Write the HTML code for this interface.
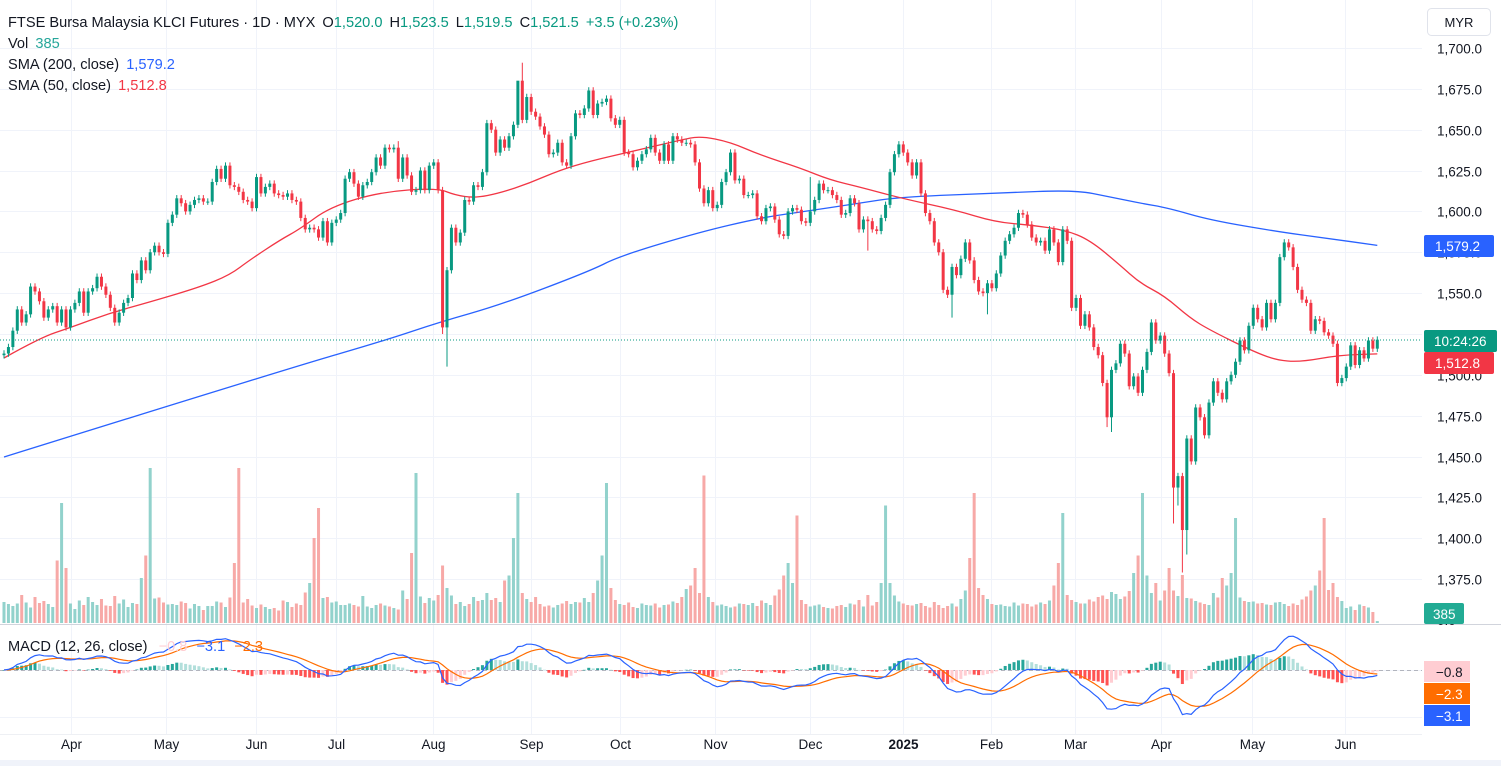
<!DOCTYPE html>
<html><head><meta charset="utf-8">
<style>
html,body{margin:0;padding:0;background:#fff;}
body{width:1501px;height:766px;overflow:hidden;font-family:"Liberation Sans",sans-serif;}
svg text{font-family:"Liberation Sans",sans-serif;}
</style></head>
<body>
<svg id="chart" width="1501" height="766" viewBox="0 0 1501 766" xmlns="http://www.w3.org/2000/svg">
  <rect x="0" y="0" width="1501" height="766" fill="#ffffff"/>
  <defs>
    <clipPath id="mainClip"><rect x="0" y="0" width="1422" height="624"/></clipPath>
    <clipPath id="macdClip"><rect x="0" y="626" width="1422" height="108"/></clipPath>
  </defs>
  <g id="grid"></g>
  <g id="volume" clip-path="url(#mainClip)"></g>
  <g id="smas" clip-path="url(#mainClip)"></g>
  <g id="candles" clip-path="url(#mainClip)"></g>
  <line x1="0" y1="340" x2="1422" y2="340" stroke="#089981" stroke-width="1" stroke-dasharray="1,2"/>
  <g id="macd" clip-path="url(#macdClip)"></g>
  <line x1="0" y1="624.5" x2="1501" y2="624.5" stroke="#d1d4dc"/>
  <line x1="0" y1="734.5" x2="1422" y2="734.5" stroke="#eef0f4"/>
  <rect x="0" y="760" width="1501" height="6" fill="#f0f3fa"/>
  <g id="yaxis"></g>
  <g id="xaxis"></g>

  <g font-size="14.6">
    <text x="8" y="27" fill="#131722">FTSE Bursa Malaysia KLCI Futures · 1D · MYX <tspan dx="3">O</tspan><tspan fill="#089981">1,520.0</tspan><tspan dx="7">H</tspan><tspan fill="#089981">1,523.5</tspan><tspan dx="7">L</tspan><tspan fill="#089981">1,519.5</tspan><tspan dx="7">C</tspan><tspan fill="#089981">1,521.5</tspan><tspan dx="7" fill="#089981">+3.5 (+0.23%)</tspan></text>
    <text x="8" y="48" fill="#131722">Vol <tspan dx="3" fill="#26a69a">385</tspan></text>
    <text x="8" y="69" fill="#131722">SMA (200, close) <tspan dx="3" fill="#2962ff">1,579.2</tspan></text>
    <text x="8" y="90" fill="#131722">SMA (50, close) <tspan dx="3" fill="#f23645">1,512.8</tspan></text>
    <text x="8" y="651" fill="#131722">MACD (12, 26, close) <tspan dx="7" fill="#ffcdd2">−0.8</tspan><tspan dx="9" fill="#2962ff">−3.1</tspan><tspan dx="9" fill="#ff6d00">−2.3</tspan></text>
  </g>

  <g>
    <rect x="1427.5" y="8.5" width="63" height="27" rx="4" fill="#fff" stroke="#e0e3eb"/>
    <text x="1459" y="27" font-size="13" fill="#131722" text-anchor="middle">MYR</text>
  </g>

  <g font-size="13.5">
    <g><rect x="1424" y="235" width="70" height="22" rx="2" fill="#2962ff"/><text x="1435" y="251" fill="#fff">1,579.2</text></g>
    <g><rect x="1424" y="330" width="73" height="22" rx="2" fill="#089981"/><text x="1434" y="346" fill="#fff">10:24:26</text></g>
    <g><rect x="1424" y="352" width="70" height="22" rx="2" fill="#f23645"/><text x="1435" y="368" fill="#fff">1,512.8</text></g>
    <g><rect x="1424" y="603" width="40" height="21" rx="2" fill="#22ab94"/><text x="1433" y="619" fill="#fff">385</text></g>
    <g><rect x="1424" y="661" width="46" height="21" fill="#ffcdd2"/><text x="1436" y="677" fill="#131722">−0.8</text></g>
    <g><rect x="1424" y="683" width="46" height="21" fill="#ff6d00"/><text x="1436" y="699" fill="#fff">−2.3</text></g>
    <g><rect x="1424" y="705" width="46" height="21" fill="#2962ff"/><text x="1436" y="721" fill="#fff">−3.1</text></g>
  </g>
</svg>
<script>
const closes = [
1513,1517,1527,1540,1532,1537,1554,1551,1545,1535,1540,1542,1532,1540,1529,1540,1544,1551,1538,1551,
1553,1560,1554,1549,1541,1532,1538,1544,1547,1562,1558,1570,1564,1575,1579,1575,1574,1593,1598,1608,
1605,1600,1604,1607,1608,1606,1606,1618,1626,1620,1628,1616,1615,1612,1607,1606,1602,1621,1611,1615,
1617,1611,1610,1609,1611,1607,1606,1596,
1589,1590,1589,1584,1594,1581,1593,1595,1599,1620,1624,1617,1609,1616,1618,1624,1633,1628,1639,1638,
1639,1620,1633,1622,1612,1613,1625,1613,1628,1630,1613,1529,1564,1590,1581,1587,1607,1606,1616,1615,
1624,1654,1650,1636,1644,1639,1646,1653,1680,1656,1670,1661,1658,1652,1647,1635,1636,1642,1630,1628,
1646,1660,1659,1663,1674,
1659,1666,1667,1669,1657,1653,1656,1636,1635,1627,1631,1635,1638,1645,1636,1631,1641,1631,1646,1644,
1642,1642,1641,1630,1614,1605,1613,1602,1604,1618,1624,1636,1619,1620,1610,1610,1611,1597,1594,1602,
1603,1595,1586,1585,1600,1602,1601,1594,1593,1600,1607,1617,1613,1613,1610,1607,1598,1599,1608,1605,
1589,1595,1594,1589,1588,1596,1604,1624,1635,1641,1636,1630,1622,1630,1611,
1599,1594,1581,1575,1552,1549,1566,1561,1571,1581,1570,1558,1551,1550,1556,1553,1562,1573,1582,1586,
1590,1599,1598,1592,1584,1581,1582,1576,1589,1581,1569,1589,1582,1541,1547,1530,1537,1529,1517,1512,
1495,1474,1503,1507,1519,1513,1493,1499,1489,1503,1514,1532,1521,1524,1513,1501,1431,1438,
1405,1461,1447,1480,1474,1463,1483,1496,1489,1485,1496,1500,1508,1521,1515,1530,1541,1534,1529,1544,
1534,1544,1572,1581,1578,1566,1552,1546,1544,1527,1534,1533,1526,1524,1519,1495,1498,1505,1518,1506,
1515,1510,1521,1516,1521.5
];
const extraLows = {99:1525, 100:1505, 195:1576, 214:1535, 222:1537, 249:1468, 250:1465, 264:1409, 265:1420, 266:1379, 267:1390};
const extraHighs = {117:1691, 116:1670, 89:1643, 182:1621};
const volumes = [
4200,3800,3400,3900,5600,4100,3100,5200,4000,4400,
3800,3200,12500,24000,11000,3900,2800,4500,3600,5200,
4200,3600,4800,3500,3400,5400,3900,4700,3200,4000,
3800,9000,13500,31000,4900,5100,4100,3700,3800,3600,
4300,4000,2900,3800,3400,2600,3400,3400,4300,4100,
3200,5100,12000,31000,4100,4800,3500,3000,3700,3200,
2800,3000,2500,4500,4200,3200,3900,3600,6100,8000,
17000,23000,5000,5200,4100,4300,3600,3600,3900,3600,
3300,5400,3300,3000,3600,3900,3500,3300,3000,2700,
6500,4800,14000,30000,5300,4000,5000,4500,5600,11500,
7000,5500,3800,4200,3400,3800,5200,4400,4600,6000,
4600,5000,4200,8500,9500,17000,26000,6000,4800,4200,
5200,3800,3300,3500,3100,3600,3900,4400,3800,4200,
4100,5000,4200,6000,8500,13500,28000,7000,4600,3800,
3600,4100,3200,3000,3900,3600,3500,3900,3100,3600,
3700,4300,4000,5200,6800,7500,11000,6000,29500,5200,
4200,3500,3700,3400,3100,3300,3900,3800,3600,4000,
3400,4500,4000,3600,5500,6700,9500,12000,8000,21500,
4600,3800,3300,3500,3700,3200,3000,2900,3400,3600,
3200,3900,3700,4600,3300,5600,3500,4200,8000,23500,
8000,5500,4300,3900,3600,3500,3800,4000,3400,3100,
4200,3600,3000,3400,3900,3300,4800,6500,13000,26000,
7000,5600,4800,3800,3600,3700,3400,3300,4100,3500,
3900,3800,3300,3700,4100,3800,4500,7500,12000,22000,
5600,4600,4200,3900,3900,4700,4300,5200,5500,4800,
6200,5800,4800,5300,6400,10000,13500,26000,9500,6000,
8000,4500,6500,11000,6500,5400,9600,5000,4900,4400,
4100,3800,3600,6000,5100,9000,7500,10000,21000,5100,
4400,4200,4300,3900,4000,3700,3600,4100,4200,3800,
3400,3900,3600,4700,5300,6500,7500,10500,21000,6600,
8000,5200,4400,3000,3300,2600,3700,3400,3100,2200,
385
];
const sma200Idx = [0,64.6,85.6,98.4,112,132.3,139,157.1,170.7,179.7,193.2,202.3,224.8,241.8,249.7,256.4,262.8,272.2,288,298.2,310];
const sma200Val = [1449.7,1504.2,1520.7,1532.3,1542.7,1563.5,1572.7,1587.4,1596,1599.6,1605.1,1608.8,1611.3,1613.1,1608.8,1605.1,1602.1,1594.7,1587.4,1583.7,1579.2];
const sma50Idx = [0,8.1,14.9,23.9,33,44.2,51,55.5,62.3,66.8,73.6,84.9,97.7,101.8,106.3,112,118.7,125.5,132.3,141.3,152.6,157.1,163.9,170.7,179.7,186.5,193.2,202.3,214.7,223.7,231.6,239.5,245.1,251.9,256.4,262,267.7,272.2,281.3,286.9,292.6,301.6,310];
const sma50Val = [1510.3,1522.6,1528.8,1537.8,1544.6,1553.7,1561.1,1570.3,1582.5,1589.2,1602.7,1611.9,1614.3,1610,1608.2,1611.3,1617.4,1625.3,1630.8,1636.4,1643.6,1646.1,1642.5,1634.5,1626.6,1619.2,1614.9,1608.2,1600.9,1593.5,1591.7,1588.6,1582.5,1567.2,1556.2,1548.2,1534.8,1527.4,1515.2,1509.1,1507.8,1512.1,1512.8];
const priceTicks = [1700,1675,1650,1625,1600,1575,1550,1525,1500,1475,1450,1425,1400,1375];
const monthLabels = ["Apr","May","Jun","Jul","Aug","Sep","Oct","Nov","Dec","2025","Feb","Mar","Apr","May","Jun"];
const monthIdx = [15.1,36.6,56.9,74.9,96.8,119,139,160.5,181.9,202.9,222.8,241.8,261.2,281.7,302.7];

const NS = "http://www.w3.org/2000/svg";
const X0 = 4, STEP = 4.43;
const xOf = i => X0 + i*STEP;
const yP = p => 48 + (1700-p)*1.634;
const yV = v => 623 - v/200;
const yM = v => 670 - v*1.75;
function mk(tag, attrs, parent){const e=document.createElementNS(NS,tag);for(const k in attrs)e.setAttribute(k,attrs[k]);parent.appendChild(e);return e;}
const fmt = p => p.toFixed(1).replace(/\B(?=(\d{3})+(?!\d))/g, ",");

const grid = document.getElementById('grid'), yaxis = document.getElementById('yaxis'), xaxis = document.getElementById('xaxis');
priceTicks.forEach(p=>{
  const y = Math.round(yP(p))+0.5;
  const l = mk('line',{x1:0,y1:y,x2:1422,y2:y,stroke:'#f0f3fa'},grid);
  
  
  const t = mk('text',{x:1437,y:y+5,'font-size':13.5,fill:'#131722'},yaxis);
  t.textContent = fmt(p);
  
  
});
{
  const t = mk('text',{x:1437,y:625,'font-size':13.5,fill:'#131722'},yaxis);
  t.textContent = "0.0";
  
  
  [670,717].forEach(y=>{
    const l = mk('line',{x1:0,y1:y+0.5,x2:1422,y2:y+0.5,stroke:'#f0f3fa'},grid);
    
    
  });
}
monthLabels.forEach((m,k)=>{
  const x = Math.round(xOf(monthIdx[k]))+0.5;
  const l = mk('line',{x1:x,y1:0,x2:x,y2:734,stroke:'#f0f3fa'},grid);
  
  
  const t = mk('text',{x:x,y:749,'font-size':13.5,fill:'#131722','text-anchor':'middle','font-weight':m==="2025"?'bold':'normal'},xaxis);
  t.textContent = m;
  
  
});

const cg = document.getElementById('candles'), vg = document.getElementById('volume');
closes.forEach((c,i)=>{
  const o = i===0 ? 1512 : closes[i-1];
  const up = c >= o;
  const hi = extraHighs[i]!==undefined ? extraHighs[i] : Math.max(o,c)+2;
  const lo = extraLows[i]!==undefined ? extraLows[i] : Math.min(o,c)-2;
  const col = up ? '#089981' : '#f23645';
  const x = xOf(i);
  const w = mk('line',{x1:x,y1:yP(hi),x2:x,y2:yP(lo),stroke:col,'stroke-width':1},cg);
  
  
  const top = yP(Math.max(o,c)), bot = yP(Math.min(o,c));
  const b = mk('rect',{x:x-1.5,y:top,width:3,height:Math.max(1,bot-top),fill:col},cg);
  
  
  const v = volumes[i];
  const vr = mk('rect',{x:x-1.5,y:yV(v),width:3,height:623-yV(v),fill:up?'#92d2cc':'#f7a9a7'},vg);
  
  
});

const sg = document.getElementById('smas');
function line(idx, val, color, name){
  const pts = idx.map((k,j)=>[xOf(k), yP(val[j])]);
  let d = 'M'+pts[0][0].toFixed(1)+' '+pts[0][1].toFixed(1);
  for (let j=1;j<pts.length-1;j++){
    const mx=(pts[j][0]+pts[j+1][0])/2, my=(pts[j][1]+pts[j+1][1])/2;
    d += ' Q'+pts[j][0].toFixed(1)+' '+pts[j][1].toFixed(1)+' '+mx.toFixed(1)+' '+my.toFixed(1);
  }
  const L = pts[pts.length-1];
  d += ' L'+L[0].toFixed(1)+' '+L[1].toFixed(1);
  const p = mk('path',{d:d,fill:'none',stroke:color,'stroke-width':1.3},sg);
  
  
}
line(sma200Idx, sma200Val, '#2962ff', 'sma-200-line');
line(sma50Idx, sma50Val, '#f23645', 'sma-50-line');

const mg = document.getElementById('macd');
let e12 = closes[0], e26 = closes[0], sig = 0;
const macdVals = [], sigVals = [], histVals = [];
closes.forEach((c,i)=>{
  e12 = e12 + (c-e12)*2/13;
  e26 = e26 + (c-e26)*2/27;
  const m = e12 - e26;
  sig = i===0 ? m : sig + (m-sig)*2/10;
  macdVals.push(m); sigVals.push(sig); histVals.push(m-sig);
});
const zl = mk('line',{x1:0,y1:670.5,x2:1422,y2:670.5,stroke:'#b2b5be','stroke-dasharray':'4,3'},mg);


histVals.forEach((h,i)=>{
  const prev = i ? histVals[i-1] : 0;
  let col;
  if (h>=0) col = h>=prev ? '#26a69a' : '#b2dfdb';
  else col = h<prev ? '#ff5252' : '#ffcdd2';
  const y0 = yM(0), y1 = yM(h);
  const r = mk('rect',{x:xOf(i)-1.5,y:Math.min(y0,y1),width:3,height:Math.max(0.5,Math.abs(y1-y0)),fill:col},mg);
  
  
});
function mline(vals,color,name){
  const d = vals.map((v,i)=>(i?'L':'M')+xOf(i).toFixed(1)+' '+yM(v).toFixed(1)).join(' ');
  const p = mk('path',{d:d,fill:'none',stroke:color,'stroke-width':1.2},mg);
  
  
}
mline(sigVals,'#ff6d00','macd-signal-line');
mline(macdVals,'#2962ff','macd-line');
</script>
</body></html>
